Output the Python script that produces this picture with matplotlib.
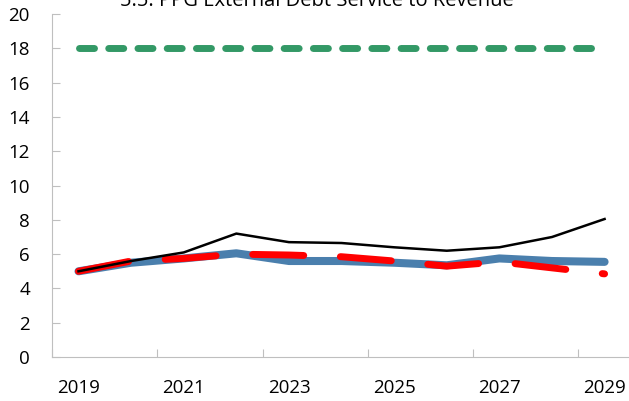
import numpy as np
import matplotlib.pyplot as plt

plt.rcParams['font.family'] = ['Open Sans', 'DejaVu Sans']

years = ['2019', '2020', '2021', '2022', '2023', '2024', '2025', '2026', '2027', '2028', '2029']
threshold = [18, 18, 18, 18, 18, 18, 18, 18, 18, 18, 18]
baseline = [5.0, 5.5, 5.75, 6.05, 5.6, 5.6, 5.5, 5.35, 5.75, 5.6, 5.55]
historical = [5.0, 5.6, 6.1, 7.2, 6.7, 6.65, 6.4, 6.2, 6.4, 7.0, 8.05]
scenario = [5.0, 5.6, 5.75, 6.0, 5.95, 5.85, 5.6, 5.3, 5.55, 5.2, 4.85]

x = np.arange(len(years))

fig = plt.figure(figsize=(6.29, 4.01), dpi=100)
ax = fig.add_axes([0.083, 0.1097, 0.92, 0.855])

ax.plot(x, threshold, color='#339966', lw=5.0, dashes=(2.16, 2.05),
        dash_capstyle='round')
ax.plot(x, baseline, color='#4a7fad', lw=5.8, solid_capstyle='round',
        solid_joinstyle='round')
ax.plot(x, scenario, color='#ff0000', lw=5.0, dashes=(7.35, 5.28),
        dash_capstyle='round')
ax.plot(x, historical, color='black', lw=1.8)

ax.set_ylim(0, 20)
ax.set_yticks(range(0, 21, 2))
ax.set_xlim(-0.5, len(years) - 0.5)
ax.set_xticks(np.arange(-0.5, len(years), 2))
ax.set_xticklabels([])
ax.set_xticks(x[::2], minor=True)
ax.set_xticklabels(years[::2], minor=True)

ax.tick_params(axis='x', which='major', direction='in', length=6, color='#bfbfbf')
ax.tick_params(axis='x', which='minor', length=0, pad=16, labelsize=13.5)
ax.tick_params(axis='y', direction='in', length=6, color='#bfbfbf', labelsize=13.5, pad=16)
for s in ['top', 'right']:
    ax.spines[s].set_visible(False)
for s in ['left', 'bottom']:
    ax.spines[s].set_color('#bfbfbf')

fig.text(0.503, 0.985, '5.5. PPG External Debt Service to Revenue',
         ha='center', va='baseline', fontsize=14.5)

fig.savefig('out.png', dpi=100)
